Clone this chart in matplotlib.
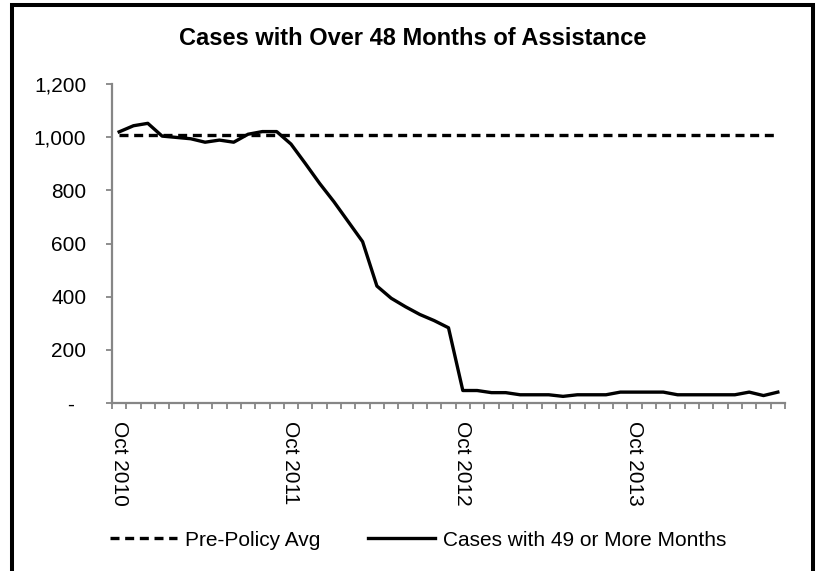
import matplotlib
matplotlib.use("Agg")
import matplotlib.pyplot as plt
from matplotlib.patches import Rectangle
from matplotlib.ticker import FixedLocator, FuncFormatter

# monthly caseload, Oct 2010 - Aug 2014
cases = [1020, 1043, 1052, 1004, 999, 994, 981, 989, 981, 1011, 1021, 1021,
         974, 901, 826, 757, 682, 607, 440, 394, 362, 333, 310, 283,
         47, 47, 39, 39, 31, 31, 31, 25, 31, 31, 31, 41,
         41, 41, 41, 31, 31, 31, 31, 31, 41, 28, 41]
pre_policy_avg = 1010

label_positions = [0, 12, 24, 36]
label_names = ["Oct 2010", "Oct 2011", "Oct 2012", "Oct 2013"]
y_ticks = [0, 200, 400, 600, 800, 1000, 1200]

plt.rcParams['font.family'] = ['Liberation Sans', 'DejaVu Sans']
grey = "#868686"

fig = plt.figure(figsize=(8.2, 5.71), dpi=100)
ax = fig.add_axes([0.1366, 0.2942, 0.8207, 0.5587])

x = list(range(len(cases)))
ax.plot(x, [pre_policy_avg] * len(cases), color="black", lw=2.4,
        linestyle=(0, (2.7, 1.7)), label="Pre-Policy Avg")
ax.plot(x, cases, color="black", lw=2.4, solid_joinstyle="round",
        label="Cases with 49 or More Months")

ax.set_xlim(-0.5, len(cases) - 0.5)
ax.set_ylim(0, 1200)

# category ticks sit between months, labels on the October months
ax.xaxis.set_major_locator(FixedLocator(label_positions))
ax.set_xticklabels(label_names, rotation=-90, va="top", ha="center")
ax.xaxis.set_minor_locator(FixedLocator([i - 0.5 for i in range(len(cases) + 1)]))
ax.tick_params(axis="x", which="major", length=0, pad=13, labelsize=15)
ax.tick_params(axis="x", which="minor", length=4.5, width=1.3, color=grey)

ax.yaxis.set_major_locator(FixedLocator(y_ticks))
ax.yaxis.set_major_formatter(FuncFormatter(lambda v, p: "-  " if v == 0 else f"{int(v):,}"))
ax.tick_params(axis="y", length=4.5, width=1.3, color=grey, pad=14, labelsize=15)

for side in ["top", "right"]:
    ax.spines[side].set_visible(False)
for side in ["left", "bottom"]:
    ax.spines[side].set_color(grey)
    ax.spines[side].set_linewidth(1.6)

fig.text(0.503, 0.932, "Cases with Over 48 Months of Assistance",
         ha="center", va="center", fontsize=17, fontweight="bold")

fig.legend(loc="center", bbox_to_anchor=(0.51, 0.054), ncol=2, frameon=False,
           fontsize=15, handlelength=3.2, handletextpad=0.4, columnspacing=2.3)

# chart border
fig.add_artist(Rectangle((0.0146, -0.05), 0.9769, 1.0412, transform=fig.transFigure,
                         fill=False, edgecolor="black", lw=2.9, clip_on=False))

fig.savefig("out.png", dpi=100)
